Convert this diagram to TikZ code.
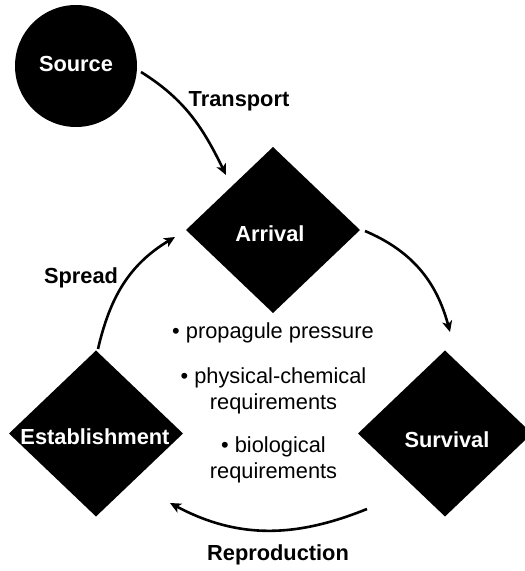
\documentclass[tikz,border=0pt]{standalone}
\usepackage{fontspec}
\setmainfont{Liberation Sans}
\usetikzlibrary{shapes.geometric,arrows.meta,calc}
\tikzset{
  circbox/.style={circle,fill=black,draw=none,minimum size=122pt,inner sep=0pt},
  diamondbox/.style={diamond,fill=black,draw=none,minimum width=174pt,minimum height=166pt,inner sep=0pt,outer sep=0pt},
  boxtext/.style={font=\fontsize{21.8}{26}\selectfont\bfseries,text=white,anchor=base,inner sep=0pt},
  flowlabel/.style={font=\fontsize{21.8}{26}\selectfont\bfseries,text=black,anchor=base,inner sep=0pt},
  bullettext/.style={font=\fontsize{21.8}{26}\selectfont,text=black,anchor=base,align=center,inner sep=0pt},
  flowarrow/.style={line width=2.6pt,-{Stealth[length=11pt,width=10pt,inset=3pt]}}
}
\begin{document}
\begin{tikzpicture}[x=1pt,y=1pt]
\useasboundingbox (0,0) rectangle (525,571);
\clip (0,0) rectangle (525,571);
% shapes
\node[circbox] (source) at (76,505) {};
\node[diamondbox] (arrival) at (273,341) {};
\node[diamondbox] (establishment) at (96,137.5) {};
\node[diamondbox] (survival) at (445,137.5) {};
% texts in shapes
\node[boxtext] (sourcetext) at (76,499) {Source};
\node[boxtext] (arrivaltext) at (270,329.5) {Arrival};
\node[boxtext] (establishmenttext) at (95,126) {Establishment};
\node[boxtext] (survivaltext) at (447,123) {Survival};
% flow labels
\node[flowlabel] (transport) at (239,464.5) {Transport};
\node[flowlabel] (spread) at (81,287.4) {Spread};
\node[flowlabel] (reproduction) at (278,10.4) {Reproduction};
% bullet items (base anchor = baseline of last line)
\node[bullettext] (pressure) at (273,232) {\textbullet\ propagule pressure};
\node[bullettext] (physchem) at (273.5,161) {\textbullet\ physical-chemical\\requirements};
\node[bullettext] (biol) at (273.5,92.7) {\textbullet\ biological\\requirements};
% arrow ends
\coordinate (t1) at ($(source.center)+(65,-6)$);
\coordinate (t2) at ($(arrival.center)+(-47,55)$);
\coordinate (s1) at ($(arrival.center)+(92,-1)$);
\coordinate (s2) at ($(survival.center)+(5,101.5)$);
\coordinate (r1) at ($(survival.center)+(-78,-75.5)$);
\coordinate (r2) at ($(establishment.center)+(74,-69.5)$);
\coordinate (p1) at ($(establishment.center)+(2,84.5)$);
\coordinate (p2) at ($(arrival.center)+(-98,-7)$);
% arrows
\draw[flowarrow] (t1) to[out=-32,in=116] (t2);
\draw[flowarrow] (s1) to[out=-23,in=105] (s2);
\draw[flowarrow] (r1) to[out=202,in=-28] (r2);
\draw[flowarrow] (p1) to[out=77,in=211] (p2);
\end{tikzpicture}
\end{document}
